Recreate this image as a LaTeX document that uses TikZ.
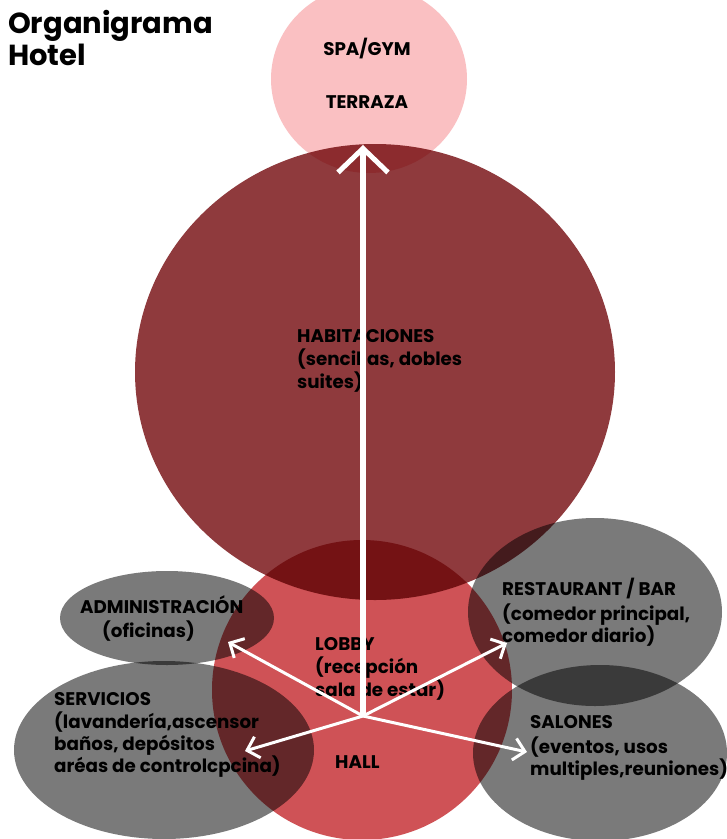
\documentclass[tikz,border=0pt]{standalone}
\usepackage{fontspec}
\setmainfont{Poppins}
\usetikzlibrary{shapes.geometric,arrows.meta}
\definecolor{spapink}{RGB}{250,192,194}
\definecolor{habred}{RGB}{143,58,61}
\definecolor{lobbyred}{RGB}{207,82,86}
\definecolor{areagray}{RGB}{122,122,122}
\begin{document}
\begin{tikzpicture}[x=1pt,y=-1pt,
  blob/.style={ellipse, draw=none, inner sep=0pt},
  lbl/.style={anchor=base west, inner sep=0pt, font=\bfseries\fontsize{18.3}{23}\selectfont, text=black},
  clbl/.style={anchor=base, inner sep=0pt, font=\bfseries\fontsize{18.3}{23}\selectfont, text=black},
  ttl/.style={anchor=base west, inner sep=0pt, font=\bfseries\fontsize{29}{32}\selectfont, text=black},
  bigarrow/.style={draw=white, line width=5.5pt, -{Straight Barb[length=24pt, width=50pt, line width=5pt]}},
  arr/.style={draw=white, line width=3pt, -{Straight Barb[length=11pt, width=22pt, line width=3pt]}}
]
\useasboundingbox (0,0) rectangle (727,839);
\clip (0,0) rectangle (727,839);
\fill[white] (0,0) rectangle (727,839);
\begin{scope}[blend group=multiply]
  \node[blob, fill=spapink, minimum width=196pt, minimum height=188pt] (spa) at (369,79) {};
  \node[blob, fill=habred, minimum width=480pt, minimum height=456pt] (hab) at (375,372) {};
  \node[blob, fill=lobbyred, minimum width=300pt, minimum height=300pt] (lobby) at (362,690) {};
  \node[blob, fill=areagray, minimum width=214pt, minimum height=94pt] (adm) at (167,618) {};
  \node[blob, fill=areagray, minimum width=300pt, minimum height=178pt] (serv) at (164,750) {};
  \node[blob, fill=areagray, minimum width=254pt, minimum height=188pt] (rest) at (595,612) {};
  \node[blob, fill=areagray, minimum width=254pt, minimum height=176pt] (sal) at (600,753) {};
\end{scope}
% titles
\node[ttl] (t1) at (8,33) {Organigrama};
\node[ttl] (t2) at (8,65) {Hotel};
% labels
\node[clbl] (spa1) at (367,55) {SPA/GYM};
\node[clbl] (spa2) at (367,108) {TERRAZA};
\node[lbl] (h1) at (297,342) {HABITACIONES};
\node[lbl] (h2) at (297,365) {(sencillas, dobles};
\node[lbl] (h3) at (297,388) {suites)};
\node[lbl] (a1) at (80,613) {ADMINISTRACIÓN};
\node[lbl] (a2) at (102,637) {(oficinas)};
\node[lbl] (s1) at (54,705) {SERVICIOS};
\node[lbl] (s2) at (54,728) {(lavandería,ascensor};
\node[lbl] (s3) at (54,750) {baños, depósitos};
\node[lbl] (s4) at (54,772) {aréas de controlcpcina)};
\node[lbl] (l1) at (315,650) {LOBBY};
\node[lbl] (l2) at (315,673) {(recepción};
\node[lbl] (l3) at (315,696) {sala de estar)};
\node[lbl] (hall) at (335,768) {HALL};
\node[lbl] (r1) at (502,595) {RESTAURANT / BAR};
\node[lbl] (r2) at (502,620) {(comedor principal,};
\node[lbl] (r3) at (502,642) {comedor diario)};
\node[lbl] (sa1) at (530,728) {SALONES};
\node[lbl] (sa2) at (530,753) {(eventos, usos};
\node[lbl] (sa3) at (530,775) {multiples,reuniones)};
% arrows
\coordinate (hub) at (363,716);
\coordinate (tipup) at (363,145);
\coordinate (tipadm) at (228,642);
\coordinate (tiprest) at (507,643);
\coordinate (tipserv) at (245,751);
\coordinate (tipsal) at (527,752);
\draw[bigarrow] (hub) -- (tipup);
\draw[arr] (hub) -- (tipadm);
\draw[arr] (hub) -- (tiprest);
\draw[arr] (hub) -- (tipserv);
\draw[arr] (hub) -- (tipsal);
\end{tikzpicture}
\end{document}
